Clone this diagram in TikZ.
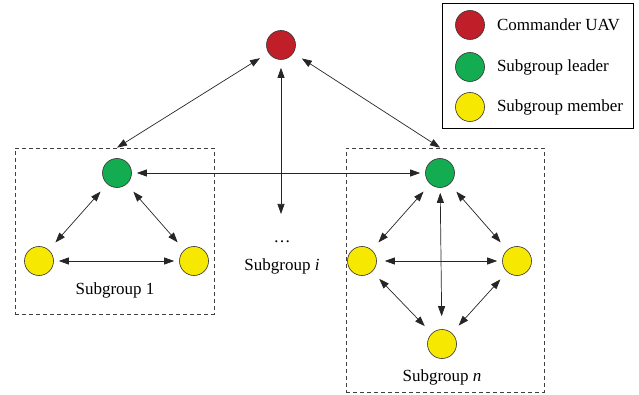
\documentclass[tikz,border=0pt]{standalone}
\usepackage{fontspec}
\setmainfont{Liberation Serif}
\usetikzlibrary{positioning,arrows.meta}
\definecolor{cmdred}{RGB}{192,30,40}
\definecolor{leadgreen}{RGB}{20,172,80}
\definecolor{membyellow}{RGB}{246,232,0}

\begin{document}
\begin{tikzpicture}[x=1pt, y=-1pt, font=\fontsize{17}{20}\selectfont,
  >={Triangle[length=10pt,width=7pt]},
  uav/.style={circle, draw=black!80, line width=0.6pt, minimum size=29pt, inner sep=0pt},
  cmd/.style={uav, fill=cmdred},
  lead/.style={uav, fill=leadgreen},
  memb/.style={uav, fill=membyellow},
  grp/.style={draw=black!75, dash pattern=on 4pt off 3pt, line width=0.7pt, inner sep=0pt},
  link/.style={<->, line width=0.7pt, draw=black!85, shorten <=5pt, shorten >=5pt},
  diag/.style={link, shorten <=10pt, shorten >=10pt}]
  \useasboundingbox (0,0) rectangle (639,395);

  % legend
  \node[draw, line width=0.7pt, minimum width=191pt, minimum height=125pt, inner sep=0pt] (legend) at (537.5,65.5) {};
  \node[cmd] (lgcmd) at (470,25) {};
  \node[lead] (lglead) at (470,67) {};
  \node[memb] (lgmemb) at (470,107) {};
  \node[right=12pt of lgcmd, inner sep=0pt] (lgcmdtxt) {Commander UAV};
  \node[right=12pt of lglead, inner sep=0pt] (lgleadtxt) {Subgroup leader};
  \node[right=12pt of lgmemb, inner sep=0pt] (lgmembtxt) {Subgroup member};

  % commander
  \node[cmd] (cmd) at (281,45) {};

  % subgroup 1
  \node[grp, minimum width=199pt, minimum height=166pt] (box1) at (114.5,231) {};
  \node[lead] (lead1) at (117,173) {};
  \node[memb] (m1a) at (39,261) {};
  \node[memb] (m1b) at (194,261) {};
  \node (lab1) at (115,290) {Subgroup 1};

  % subgroup i
  \node[inner sep=0pt] (dots) at (282,242) {\dots};
  \node (labi) at (282,266) {Subgroup \textit{i}};
  \coordinate (itop) at (281,214);

  % subgroup n
  \node[grp, minimum width=198pt, minimum height=244pt] (boxn) at (445,270) {};
  \node[lead] (leadn) at (440,173) {};
  \node[memb] (mna) at (362,261) {};
  \node[memb] (mnb) at (517,261) {};
  \node[memb] (mnc) at (442,344) {};
  \node (labn) at (442,377) {Subgroup \textit{n}};

  % links
  \draw[link, shorten <=10pt, shorten >=0pt] (cmd) -- (lead1 |- box1.north);
  \draw[link, shorten <=10pt, shorten >=0pt] (cmd) -- (leadn |- boxn.north);
  \draw[link, shorten <=8pt, shorten >=0pt] (cmd) -- (itop);
  \draw[link] (lead1) -- (leadn);

  \draw[diag] (lead1) -- (m1a);
  \draw[diag] (lead1) -- (m1b);
  \draw[link] (m1a) -- (m1b);

  \draw[diag] (leadn) -- (mna);
  \draw[diag] (leadn) -- (mnb);
  \draw[link, shorten >=13pt] (leadn) -- (mnc);
  \draw[link, shorten <=8pt] (mna) -- (mnb);
  \draw[diag] (mna) -- (mnc);
  \draw[diag] (mnb) -- (mnc);
\end{tikzpicture}
\end{document}
